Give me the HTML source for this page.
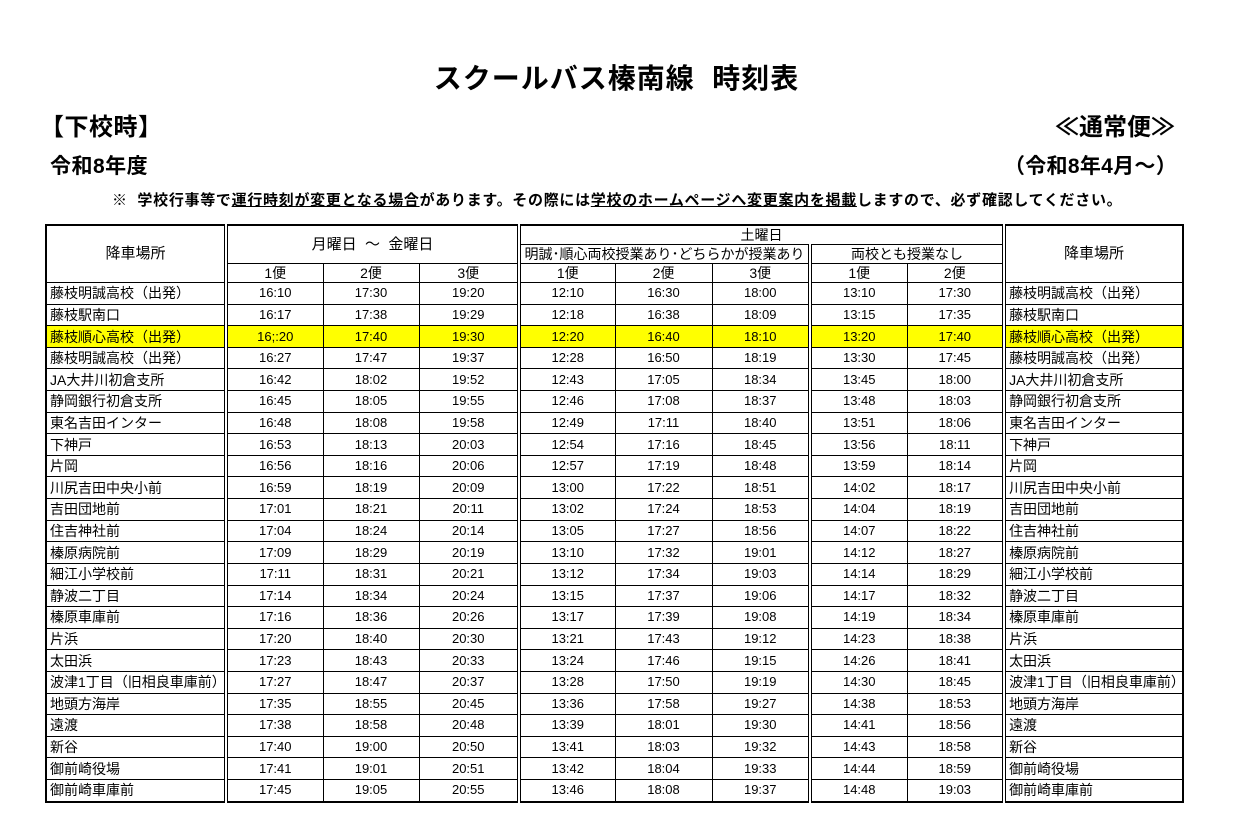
<!DOCTYPE html>
<html><head><meta charset="utf-8"><style>
body{margin:0;width:1241px;height:836px;background:#fff;position:relative;font-family:"Liberation Sans","Noto Sans CJK JP",sans-serif;color:#000;overflow:hidden}
.a{position:absolute;white-space:nowrap}
table{position:absolute;left:45px;top:224px;border-collapse:collapse;table-layout:fixed;width:1137px;border:2px solid #000}
td{border:1px solid #000;padding:0;text-align:center;font-size:13px;height:20.62px;line-height:14px;overflow:hidden;white-space:nowrap}
td.n{text-align:left;font-size:14px;padding-left:3px}
td.d{border-right:4px double #000}
tr.h td{font-size:14px;height:18px}
tr.y td{background:#ffff00}
</style></head><body>
<div class="a" style="left:-4px;width:1241px;text-align:center;top:57px;font-size:28px;font-weight:bold;letter-spacing:1px">スクールバス榛南線&nbsp;&nbsp;時刻表</div>
<div class="a" style="left:40px;top:107px;font-size:24px;font-weight:bold;letter-spacing:0.5px">【下校時】</div>
<div class="a" style="right:66px;top:107px;font-size:24px;font-weight:bold">≪通常便≫</div>
<div class="a" style="left:50px;top:150px;font-size:21px;font-weight:bold;letter-spacing:0.5px">令和8年度</div>
<div class="a" style="right:64px;top:150px;font-size:21px;font-weight:bold;letter-spacing:0.3px">（令和8年4月～）</div>
<div class="a" style="left:112px;top:189px;font-size:15px;font-weight:bold;letter-spacing:0.7px">※&nbsp;&nbsp;学校行事等で<u>運行時刻が変更となる場合</u>があります。その際には<u>学校のホームページへ変更案内を掲載</u>しますので、必ず確認してください。</div>
<table>
<colgroup><col style="width:180px"><col style="width:97px"><col style="width:96px"><col style="width:100px"><col style="width:96px"><col style="width:97px"><col style="width:98px"><col style="width:97px"><col style="width:97px"><col style="width:179px"></colgroup>
<tr class="h"><td rowspan="3" class="d" style="font-size:15px">降車場所</td><td colspan="3" rowspan="2" class="d" style="font-size:15px">月曜日&nbsp;&nbsp;～&nbsp;&nbsp;金曜日</td><td colspan="5" class="d">土曜日</td><td rowspan="3" style="font-size:15px">降車場所</td></tr>
<tr class="h"><td colspan="3" class="d">明誠･順心両校授業あり･どちらかが授業あり</td><td colspan="2" class="d">両校とも授業なし</td></tr>
<tr class="h"><td>1便</td><td>2便</td><td class="d">3便</td><td>1便</td><td>2便</td><td class="d">3便</td><td>1便</td><td class="d">2便</td></tr>
<tr><td class="n d">藤枝明誠高校（出発）</td><td>16:10</td><td>17:30</td><td class="d">19:20</td><td>12:10</td><td>16:30</td><td class="d">18:00</td><td>13:10</td><td class="d">17:30</td><td class="n">藤枝明誠高校（出発）</td></tr>
<tr><td class="n d">藤枝駅南口</td><td>16:17</td><td>17:38</td><td class="d">19:29</td><td>12:18</td><td>16:38</td><td class="d">18:09</td><td>13:15</td><td class="d">17:35</td><td class="n">藤枝駅南口</td></tr>
<tr class="y"><td class="n d">藤枝順心高校（出発）</td><td>16;:20</td><td>17:40</td><td class="d">19:30</td><td>12:20</td><td>16:40</td><td class="d">18:10</td><td>13:20</td><td class="d">17:40</td><td class="n">藤枝順心高校（出発）</td></tr>
<tr><td class="n d">藤枝明誠高校（出発）</td><td>16:27</td><td>17:47</td><td class="d">19:37</td><td>12:28</td><td>16:50</td><td class="d">18:19</td><td>13:30</td><td class="d">17:45</td><td class="n">藤枝明誠高校（出発）</td></tr>
<tr><td class="n d">JA大井川初倉支所</td><td>16:42</td><td>18:02</td><td class="d">19:52</td><td>12:43</td><td>17:05</td><td class="d">18:34</td><td>13:45</td><td class="d">18:00</td><td class="n">JA大井川初倉支所</td></tr>
<tr><td class="n d">静岡銀行初倉支所</td><td>16:45</td><td>18:05</td><td class="d">19:55</td><td>12:46</td><td>17:08</td><td class="d">18:37</td><td>13:48</td><td class="d">18:03</td><td class="n">静岡銀行初倉支所</td></tr>
<tr><td class="n d">東名吉田インター</td><td>16:48</td><td>18:08</td><td class="d">19:58</td><td>12:49</td><td>17:11</td><td class="d">18:40</td><td>13:51</td><td class="d">18:06</td><td class="n">東名吉田インター</td></tr>
<tr><td class="n d">下神戸</td><td>16:53</td><td>18:13</td><td class="d">20:03</td><td>12:54</td><td>17:16</td><td class="d">18:45</td><td>13:56</td><td class="d">18:11</td><td class="n">下神戸</td></tr>
<tr><td class="n d">片岡</td><td>16:56</td><td>18:16</td><td class="d">20:06</td><td>12:57</td><td>17:19</td><td class="d">18:48</td><td>13:59</td><td class="d">18:14</td><td class="n">片岡</td></tr>
<tr><td class="n d">川尻吉田中央小前</td><td>16:59</td><td>18:19</td><td class="d">20:09</td><td>13:00</td><td>17:22</td><td class="d">18:51</td><td>14:02</td><td class="d">18:17</td><td class="n">川尻吉田中央小前</td></tr>
<tr><td class="n d">吉田団地前</td><td>17:01</td><td>18:21</td><td class="d">20:11</td><td>13:02</td><td>17:24</td><td class="d">18:53</td><td>14:04</td><td class="d">18:19</td><td class="n">吉田団地前</td></tr>
<tr><td class="n d">住吉神社前</td><td>17:04</td><td>18:24</td><td class="d">20:14</td><td>13:05</td><td>17:27</td><td class="d">18:56</td><td>14:07</td><td class="d">18:22</td><td class="n">住吉神社前</td></tr>
<tr><td class="n d">榛原病院前</td><td>17:09</td><td>18:29</td><td class="d">20:19</td><td>13:10</td><td>17:32</td><td class="d">19:01</td><td>14:12</td><td class="d">18:27</td><td class="n">榛原病院前</td></tr>
<tr><td class="n d">細江小学校前</td><td>17:11</td><td>18:31</td><td class="d">20:21</td><td>13:12</td><td>17:34</td><td class="d">19:03</td><td>14:14</td><td class="d">18:29</td><td class="n">細江小学校前</td></tr>
<tr><td class="n d">静波二丁目</td><td>17:14</td><td>18:34</td><td class="d">20:24</td><td>13:15</td><td>17:37</td><td class="d">19:06</td><td>14:17</td><td class="d">18:32</td><td class="n">静波二丁目</td></tr>
<tr><td class="n d">榛原車庫前</td><td>17:16</td><td>18:36</td><td class="d">20:26</td><td>13:17</td><td>17:39</td><td class="d">19:08</td><td>14:19</td><td class="d">18:34</td><td class="n">榛原車庫前</td></tr>
<tr><td class="n d">片浜</td><td>17:20</td><td>18:40</td><td class="d">20:30</td><td>13:21</td><td>17:43</td><td class="d">19:12</td><td>14:23</td><td class="d">18:38</td><td class="n">片浜</td></tr>
<tr><td class="n d">太田浜</td><td>17:23</td><td>18:43</td><td class="d">20:33</td><td>13:24</td><td>17:46</td><td class="d">19:15</td><td>14:26</td><td class="d">18:41</td><td class="n">太田浜</td></tr>
<tr><td class="n d">波津1丁目（旧相良車庫前）</td><td>17:27</td><td>18:47</td><td class="d">20:37</td><td>13:28</td><td>17:50</td><td class="d">19:19</td><td>14:30</td><td class="d">18:45</td><td class="n">波津1丁目（旧相良車庫前）</td></tr>
<tr><td class="n d">地頭方海岸</td><td>17:35</td><td>18:55</td><td class="d">20:45</td><td>13:36</td><td>17:58</td><td class="d">19:27</td><td>14:38</td><td class="d">18:53</td><td class="n">地頭方海岸</td></tr>
<tr><td class="n d">遠渡</td><td>17:38</td><td>18:58</td><td class="d">20:48</td><td>13:39</td><td>18:01</td><td class="d">19:30</td><td>14:41</td><td class="d">18:56</td><td class="n">遠渡</td></tr>
<tr><td class="n d">新谷</td><td>17:40</td><td>19:00</td><td class="d">20:50</td><td>13:41</td><td>18:03</td><td class="d">19:32</td><td>14:43</td><td class="d">18:58</td><td class="n">新谷</td></tr>
<tr><td class="n d">御前崎役場</td><td>17:41</td><td>19:01</td><td class="d">20:51</td><td>13:42</td><td>18:04</td><td class="d">19:33</td><td>14:44</td><td class="d">18:59</td><td class="n">御前崎役場</td></tr>
<tr><td class="n d">御前崎車庫前</td><td>17:45</td><td>19:05</td><td class="d">20:55</td><td>13:46</td><td>18:08</td><td class="d">19:37</td><td>14:48</td><td class="d">19:03</td><td class="n">御前崎車庫前</td></tr>
</table>
</body></html>
